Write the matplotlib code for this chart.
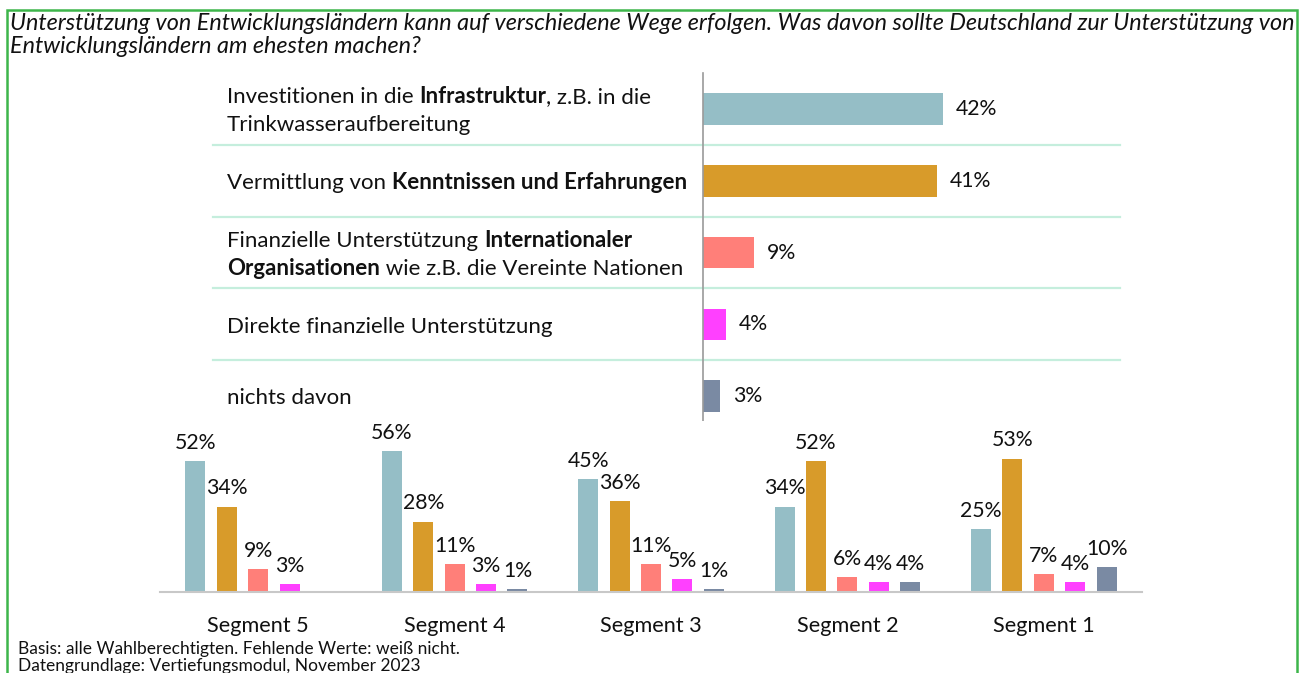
import numpy as np
import matplotlib
matplotlib.use("Agg")
import matplotlib.pyplot as plt
import matplotlib.transforms as mtransforms
from matplotlib.patches import Rectangle

plt.rcParams["font.family"] = ["Lato", "DejaVu Sans"]

# data
title = ("Unterstützung von Entwicklungsländern kann auf verschiedene Wege erfolgen. "
         "Was davon sollte Deutschland zur Unterstützung von\n"
         "Entwicklungsländern am ehesten machen?")
# each answer: list of lines, each line a list of (text, bold) pieces
answers = [
    [[("Investitionen in die ", False), ("Infrastruktur", True), (", z.B. in die", False)],
     [("Trinkwasseraufbereitung", False)]],
    [[("Vermittlung von ", False), ("Kenntnissen und Erfahrungen", True)]],
    [[("Finanzielle Unterstützung ", False), ("Internationaler", True)],
     [("Organisationen", True), (" wie z.B. die Vereinte Nationen", False)]],
    [[("Direkte finanzielle Unterstützung", False)]],
    [[("nichts davon", False)]],
]
total = [42, 41, 9, 4, 3]
segments = ["Segment 5", "Segment 4", "Segment 3", "Segment 2", "Segment 1"]
seg_values = [
    [52, 34, 9, 3, np.nan],
    [56, 28, 11, 3, 1],
    [45, 36, 11, 5, 1],
    [34, 52, 6, 4, 4],
    [25, 53, 7, 4, 10],
]
colors = ["#95BEC6", "#D89B2A", "#FF7F79", "#FF40FF", "#7A8AA3"]
footer = ("Basis: alle Wahlberechtigten. Fehlende Werte: weiß nicht.\n"
          "Datengrundlage: Vertiefungsmodul, November 2023")

W, H = 1305, 673
fig = plt.figure(figsize=(W / 100, H / 100), dpi=100)
txt = "#111111"
fs_lab = 16
fs_val = 15.3


def fx(px):
    return px / W


def fy(px):
    return 1 - px / H


# frame
fig.patches.append(Rectangle((fx(7), -0.05), fx(1297 - 7), fy(10) + 0.05,
                             transform=fig.transFigure, fill=False,
                             edgecolor="#3DB54A", lw=1.8))

fig.text(fx(10), fy(13), title, ha="left", va="top", fontsize=16.8,
         style="italic", color=txt, linespacing=1.1)

# top chart
ax = fig.add_axes([fx(703), fy(430), fx(1120 - 703), fy(73) - fy(430)])
y = np.arange(len(total))
ax.barh(y, total, height=0.44, color=colors)
ax.set_ylim(4.47, -0.5)
ax.set_xlim(0, 73)
ax.set_xticks([])
ax.set_yticks([])
for s in ["top", "right", "bottom"]:
    ax.spines[s].set_visible(False)
ax.spines["left"].set_color("#9A9A9A")
ax.spines["left"].set_linewidth(1.2)
for yi, v in zip(y, total):
    ax.annotate(f"{v}%", (v, yi), xytext=(9, 0), textcoords="offset points",
                va="center", ha="left", fontsize=fs_val, color=txt)

blend = mtransforms.blended_transform_factory(fig.transFigure, ax.transData)
for yi in y[:-1]:
    ax.plot([fx(213), fx(1120)], [yi + 0.5, yi + 0.5], transform=blend,
            color="#C5EEDD", lw=1.6, clip_on=False)

line_h = 28 / 72  # line spacing in data units
for yi, lines in zip(y, answers):
    n = len(lines)
    for k, pieces in enumerate(lines):
        yy = yi + (k - (n - 1) / 2) * line_h + 0.03
        prev = None
        for text, bold in pieces:
            w = "bold" if bold else "normal"
            if prev is None:
                prev = ax.text(fx(227), yy, text, transform=blend, ha="left",
                               va="center", fontsize=fs_lab, fontweight=w, color=txt)
            else:
                prev = ax.annotate(text, xy=(1, 0), xycoords=prev, ha="left",
                                   va="bottom", fontsize=fs_lab, fontweight=w, color=txt)

# bottom chart
bx = fig.add_axes([fx(160), fy(592), fx(1142 - 160), fy(421) - fy(592)])
step = 31.5 / 197
bw = 20 / 197
gx = np.arange(len(segments))
for j in range(len(colors)):
    vals = np.array([row[j] for row in seg_values], dtype=float)
    xs = gx + (j - 2) * step
    bx.bar(xs, np.nan_to_num(vals), width=bw, color=colors[j])
    for xv, v in zip(xs, vals):
        if not np.isnan(v):
            bx.annotate(f"{v:.0f}%", (xv, v), xytext=(0, 6), textcoords="offset points",
                        ha="center", va="bottom", fontsize=fs_val, color=txt)
bx.set_xlim(-0.5, 4.5)
bx.set_ylim(0, 68)
bx.set_yticks([])
bx.set_xticks(gx)
bx.set_xticklabels(segments, fontsize=15.6, color=txt)
bx.tick_params(axis="x", length=0, pad=17)
for s in ["top", "right", "left"]:
    bx.spines[s].set_visible(False)
bx.spines["bottom"].set_color("#C8C8C8")
bx.spines["bottom"].set_linewidth(1.5)

fig.text(fx(18), fy(641), footer, ha="left", va="top", fontsize=12.5,
         color=txt, linespacing=1.05)

fig.savefig("out.png", dpi=100)
